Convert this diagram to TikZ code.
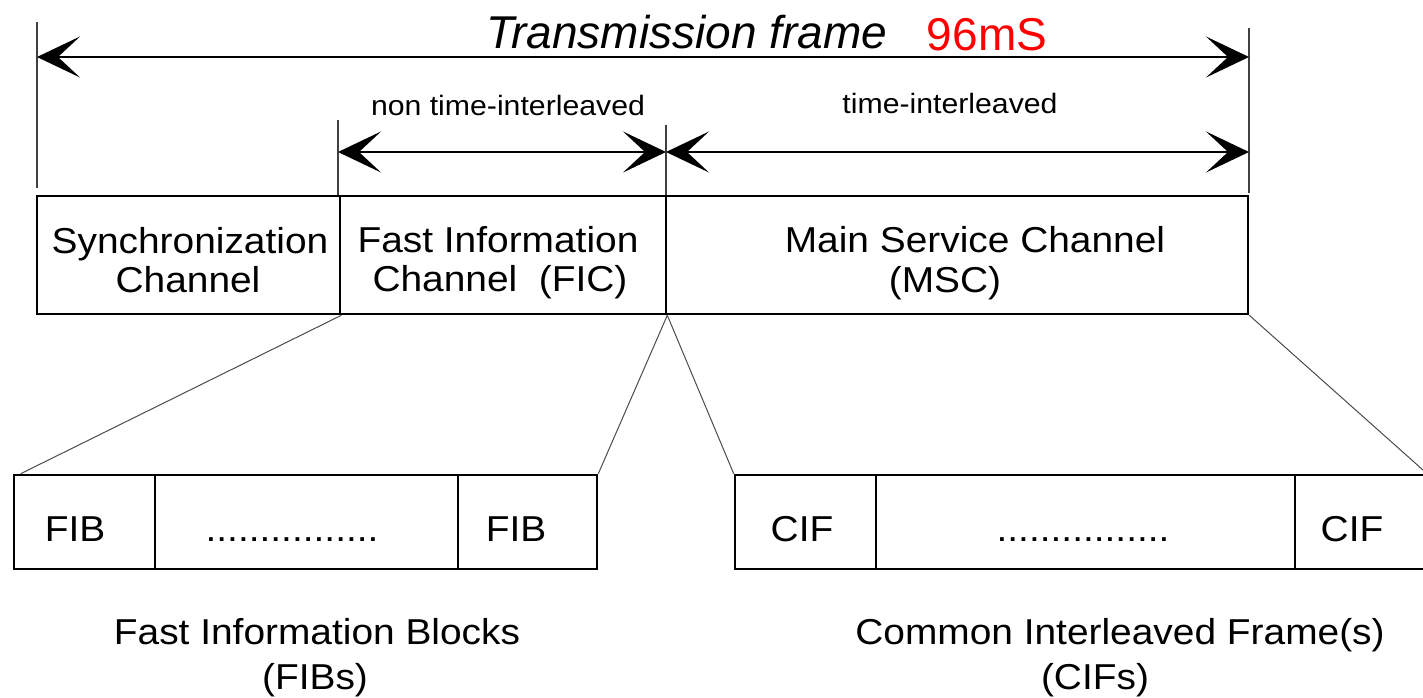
\documentclass[tikz,border=0pt]{standalone}
\usepackage{fontspec}
\setmainfont{Liberation Sans}[FakeStretch=1.08]
\newfontfamily\titlefont{Liberation Sans}
\usetikzlibrary{arrows.meta}
\definecolor{dabred}{RGB}{255,0,0}
\tikzset{
  tick/.style={line width=1.1pt, black!75},
  dim/.style={line width=1.4pt, {Stealth[length=43pt,width=41pt,inset=22pt]}-{Stealth[length=43pt,width=41pt,inset=22pt]}},
  frame/.style={draw, line width=2.6pt, minimum height=118pt, inner sep=0pt},
  sub/.style={draw, line width=2.6pt, minimum height=94pt, inner sep=0pt},
  fan/.style={line width=1pt, black!70},
  lbl/.style={font=\fontsize{36}{40}\selectfont, inner sep=0pt, anchor=base},
  small/.style={font=\fontsize{28}{30}\selectfont, inner sep=0pt, anchor=base},
}
\begin{document}
\begin{tikzpicture}[x=1pt,y=-1pt]
\useasboundingbox (0,0) rectangle (1423,697);
\clip (0,0) rectangle (1423,697);
\fill[white] (0,0) rectangle (1423,697);
% ticks
\coordinate (t1a) at (37,22);   \coordinate (t1b) at (37,188);
\coordinate (t2a) at (1249,28); \coordinate (t2b) at (1249,193);
\coordinate (t3a) at (338,120); \coordinate (t3b) at (338,195);
\coordinate (t4a) at (666,125); \coordinate (t4b) at (666,195);
\draw[tick] (t1a) -- (t1b);
\draw[tick] (t2a) -- (t2b);
\draw[tick] (t3a) -- (t3b);
\draw[tick] (t4a) -- (t4b);
% arrow ends
\coordinate (a1l) at (37,57);  \coordinate (a1r) at (1249,57);
\coordinate (a2l) at (338,152); \coordinate (a2m) at (666,152); \coordinate (a2r) at (1249,152);
\draw[dim] (a1l) -- (a1r);
\draw[dim] (a2l) -- (a2m);
\draw[dim] (a2m) -- (a2r);
% titles
\node[inner sep=0pt, anchor=base, font=\titlefont\itshape\fontsize{46}{50}\selectfont] (title) at (687,48) {Transmission frame};
\node[inner sep=0pt, anchor=base, text=dabred, font=\titlefont\fontsize{46}{50}\selectfont] (dur) at (987,50) {96mS};
\node[small] (nti) at (508,115) {non time-interleaved};
\node[small] (ti) at (950,113) {time-interleaved};
% main frame boxes
\node[frame, minimum width=303pt] (sync) at (188.5,255) {};
\node[frame, minimum width=326pt] (fic) at (503,255) {};
\node[frame, minimum width=582pt] (msc) at (957,255) {};
\node[lbl] (syncA) at (190,253) {Synchronization};
\node[lbl] (syncB) at (188,292) {Channel};
\node[lbl] (ficA) at (498,252) {Fast Information};
\node[lbl] (ficB) at (500,291) {Channel\ \ (FIC)};
\node[lbl] (mscA) at (975,252) {Main Service Channel};
\node[lbl] (mscB) at (945,292) {(MSC)};
% FIB row
\node[sub, minimum width=141pt] (fib1) at (84.5,522) {};
\node[sub, minimum width=303pt] (fibd) at (306.5,522) {};
\node[sub, minimum width=139pt] (fib2) at (527.5,522) {};
\node[lbl] (fib1t) at (75,541) {FIB};
\node[lbl] (fibdt) at (292,541) {................};
\node[lbl] (fib2t) at (516,541) {FIB};
% CIF row
\node[sub, minimum width=141pt] (cif1) at (805.5,522) {};
\node[sub, minimum width=419pt] (cifd) at (1085.5,522) {};
\node[sub, minimum width=160pt] (cif2) at (1375,522) {};
\node[lbl] (cif1t) at (802,541) {CIF};
\node[lbl] (cifdt) at (1083,541) {................};
\node[lbl] (cif2t) at (1352,541) {CIF};
% fan lines
\coordinate (fr) at (1423,470);
\draw[fan] (sync.south east) -- ([xshift=8pt]fib1.north west);
\draw[fan] (fic.south east) -- (fib2.north east);
\draw[fan] (fic.south east) -- (cif1.north west);
\draw[fan] (msc.south east) -- (fr);
% captions
\node[lbl] (capA) at (317,644) {Fast Information Blocks};
\node[lbl] (capB) at (315,689) {(FIBs)};
\node[lbl] (capC) at (1120,644) {Common Interleaved Frame(s)};
\node[lbl] (capD) at (1095,689) {(CIFs)};
\end{tikzpicture}
\end{document}
